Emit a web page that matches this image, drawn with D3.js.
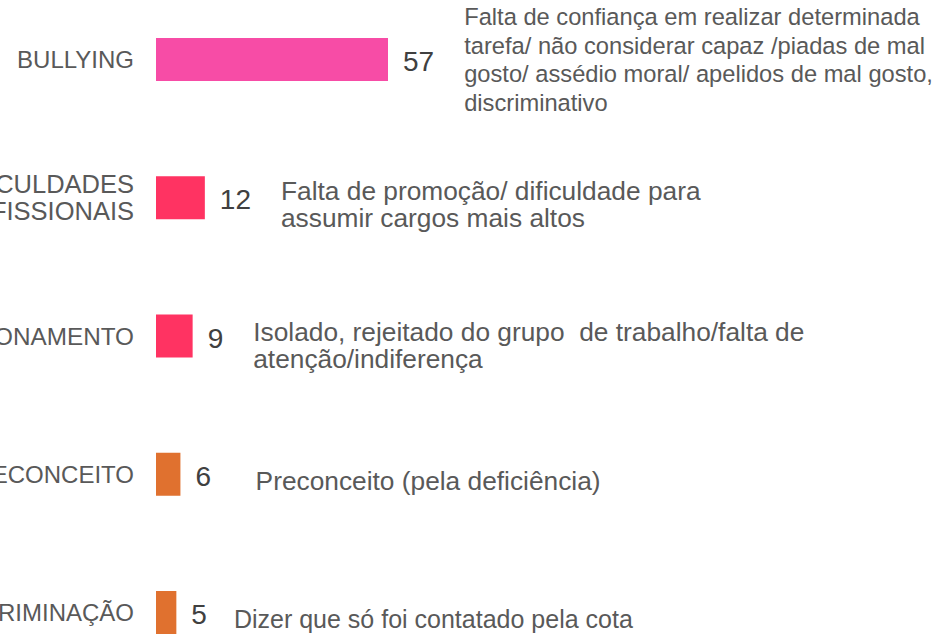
<!DOCTYPE html>
<html>
<head>
<meta charset="utf-8">
<script src="https://cdn.jsdelivr.net/npm/d3@7"></script>
<style>
  body { margin: 0; background: #fff; }
  svg { display: block; font-family: "Liberation Sans", Arial, sans-serif; }
</style>
</head>
<body>
<svg id="chart" width="950" height="634"></svg>
<script>
  // data
  var categories = ['BULLYING', 'DIFICULDADES PROFISSIONAIS', 'RELACIONAMENTO', 'PRECONCEITO', 'DISCRIMINAÇÃO'];
  var labelLines = [['BULLYING'], ['DIFICULDADES', 'PROFISSIONAIS'], ['RELACIONAMENTO'], ['PRECONCEITO'], ['DISCRIMINAÇÃO']];
  var values = [57, 12, 9, 6, 5];
  var colors = ['#f74ca6', '#ff3362', '#ff3362', '#e0712f', '#e0712f'];
  var descriptions = [
    ['Falta de confiança em realizar determinada', 'tarefa/ não considerar capaz /piadas de mal', 'gosto/ assédio moral/ apelidos de mal gosto,', 'discriminativo'],
    ['Falta de promoção/ dificuldade para', 'assumir cargos mais altos'],
    ['Isolado, rejeitado do grupo  de trabalho/falta de', 'atenção/indiferença'],
    ['  Preconceito (pela deficiência)'],
    ['Dizer que só foi contatado pela cota']
  ];

  // text boxes were sized by hand in the original slide
  var labelSize = [24, 25.5, 24.3, 24, 24];
  var descSize = [23.7, 26.3, 26.3, 26.3, 25];

  var svg = d3.select('#chart');

  var x = d3.scaleLinear().domain([0, 57]).range([156, 388]);
  var y = d3.scalePoint().domain(categories).range([59.5, 612.5]);
  var barH = 43;

  var rows = svg.append('g').selectAll('g')
    .data(categories)
    .enter()
    .append('g')
    .attr('transform', function(d) { return 'translate(0,' + y(d) + ')'; });

  rows.append('rect')
    .attr('x', x(0))
    .attr('y', -barH / 2)
    .attr('height', barH)
    .attr('width', function(d, i) { return x(values[i]) - x(0); })
    .attr('fill', function(d, i) { return colors[i]; });

  // category labels, right aligned, clipped by the page edge
  rows.append('text')
    .attr('text-anchor', 'end')
    .attr('fill', '#595959')
    .style('font-size', function(d, i) { return labelSize[i] + 'px'; })
    .each(function(d, i) {
      var lines = labelLines[i];
      var lh = 27.5;
      var t = d3.select(this);
      lines.forEach(function(line, j) {
        t.append('tspan')
          .attr('x', 134)
          .attr('y', 8.5 + (j - (lines.length - 1) / 2) * lh)
          .text(line);
      });
    });

  // value labels
  var valueLabels = rows.append('text')
    .attr('x', function(d, i) { return x(values[i]) + 15; })
    .attr('y', 11.5)
    .attr('fill', '#404040')
    .style('font-size', '28px')
    .text(function(d, i) { return values[i]; });

  // descriptions next to the value
  rows.append('text')
    .attr('fill', '#595959')
    .style('font-size', function(d, i) { return descSize[i] + 'px'; })
    .style('white-space', 'pre')
    .each(function(d, i) {
      var lines = descriptions[i];
      var lh = lines.length > 2 ? 28.5 : 27.5;
      var shift = lines.length > 2 ? 0 : (i === 2 ? 10 : 7);
      var vx = valueLabels.nodes()[i];
      var gap = i === 4 ? 27 : 30;
      var left = x(values[i]) + 15 + vx.getComputedTextLength() + gap;
      var t = d3.select(this);
      lines.forEach(function(line, j) {
        t.append('tspan')
          .attr('x', left)
          .attr('y', 8.5 + shift + (j - (lines.length - 1) / 2) * lh)
          .text(line);
      });
    });
</script>
</body>
</html>
